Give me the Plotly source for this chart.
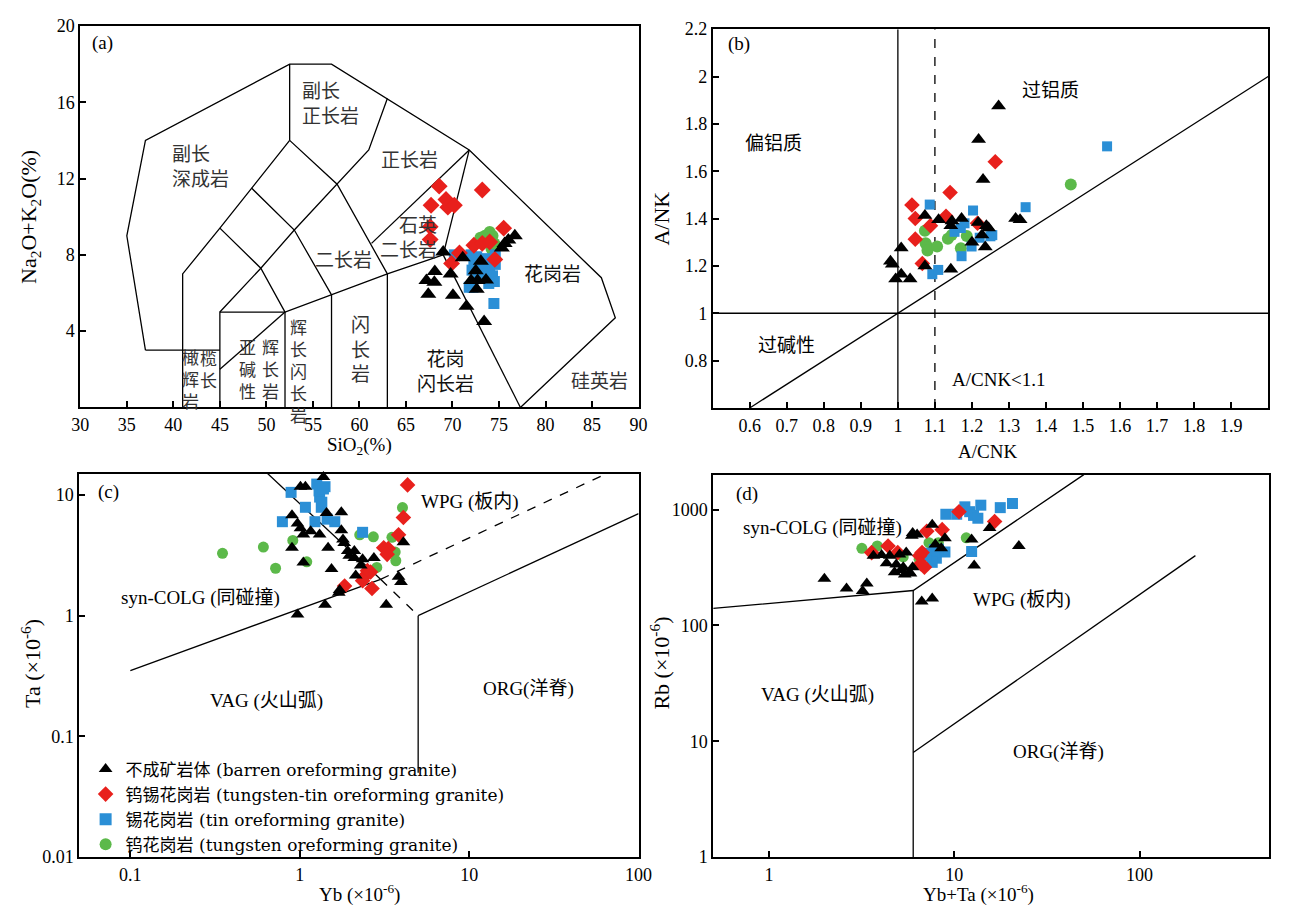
import math
import plotly.graph_objects as go

W, H = 1291, 917

# ---------------- DATA ----------------
# Panel (a) TAS: SiO2 (%) vs Na2O+K2O (%)
a_barren_x = [69.0, 71.1, 73.05, 76.0, 76.7, 75.3, 68.1, 67.2, 68.05, 67.4, 69.8, 70.05, 71.5, 73.4, 72.5, 72.0, 72.7, 73.6, 72.6, 75.6]
a_barren_y = [8.15, 7.85, 7.67, 8.78, 9.0, 8.36, 7.13, 6.65, 6.56, 5.93, 6.99, 5.88, 5.3, 4.5, 7.16, 6.65, 6.65, 6.68, 6.2, 8.6]
a_wsn_x = [68.57, 73.2, 67.7, 69.3, 69.5, 70.2, 67.6, 67.6, 75.5, 72.3, 73.2, 74.0, 70.75, 69.9, 74.55]
a_wsn_y = [11.6, 11.4, 10.6, 10.9, 10.5, 10.6, 9.47, 8.8, 9.4, 8.5, 8.6, 8.67, 8.1, 7.55, 7.76]
a_sn_x = [70.2, 72.0, 72.3, 72.1, 72.6, 73.0, 73.3, 72.8, 73.7, 74.0, 74.3, 74.6, 74.5, 72.2, 73.9, 74.45, 74.6, 71.8]
a_sn_y = [8.0, 8.0, 7.6, 7.2, 7.9, 7.4, 7.0, 6.8, 7.8, 7.3, 6.9, 7.5, 6.6, 6.3, 6.5, 5.45, 8.0, 6.3]
a_w_x = [73.0, 73.5, 74.0, 74.3, 74.5, 74.2, 73.8]
a_w_y = [8.9, 9.0, 9.2, 9.0, 8.6, 8.3, 8.8]

# Panel (b): A/CNK vs A/NK
b_barren_x = [1.272, 1.218, 1.23, 1.073, 1.11, 1.146, 1.172, 1.143, 1.217, 1.239, 1.245, 1.227, 1.2, 1.236, 1.318, 1.33, 1.009, 0.985, 0.98, 0.994, 1.009, 1.033, 1.073, 1.143]
b_barren_y = [1.875, 1.734, 1.565, 1.413, 1.395, 1.39, 1.40, 1.37, 1.383, 1.37, 1.36, 1.33, 1.30, 1.28, 1.40, 1.395, 1.276, 1.207, 1.22, 1.145, 1.165, 1.145, 1.2, 1.186]
b_wsn_x = [1.263, 1.141, 1.038, 1.047, 1.13, 1.088, 1.047, 1.066, 1.215]
b_wsn_y = [1.64, 1.51, 1.457, 1.40, 1.41, 1.37, 1.313, 1.21, 1.38]
b_sn_x = [1.086, 1.203, 1.345, 1.153, 1.17, 1.18, 1.199, 1.172, 1.221, 1.25, 1.255, 1.093, 1.109, 1.565]
b_sn_y = [1.459, 1.434, 1.448, 1.344, 1.36, 1.38, 1.282, 1.241, 1.319, 1.325, 1.33, 1.165, 1.183, 1.705]
b_w_x = [1.467, 1.073, 1.075, 1.08, 1.08, 1.106, 1.135, 1.145, 1.186, 1.17]
b_w_y = [1.544, 1.348, 1.296, 1.28, 1.265, 1.282, 1.315, 1.33, 1.326, 1.275]

# Panel (c): Yb vs Ta
c_barren_x = [1.38, 1.01, 1.08, 1.44, 1.76, 0.90, 0.97, 1.01, 1.05, 1.16, 1.31, 1.76, 1.80, 0.90, 1.47, 1.83, 1.92, 2.10, 1.96, 2.10, 2.35, 2.74, 2.29, 1.05, 1.54, 2.14, 3.83, 3.96, 1.72, 1.70, 1.41, 0.97, 3.24, 4.09]
c_barren_y = [14.1, 11.7, 11.7, 7.1, 7.2, 6.8, 5.8, 5.3, 4.7, 5.0, 4.7, 5.1, 4.27, 3.65, 3.65, 4.0, 3.43, 3.43, 3.13, 3.0, 2.93, 3.0, 2.6, 2.76, 2.43, 2.15, 2.1, 1.9, 1.63, 1.55, 1.23, 1.02, 1.23, 4.05]
c_wsn_x = [4.33, 4.09, 3.83, 3.13, 3.33, 3.28, 2.51, 2.40, 2.62, 1.84, 2.67, 2.35]
c_wsn_y = [12.1, 6.5, 4.67, 3.65, 3.6, 3.22, 2.36, 2.1, 2.3, 1.76, 1.68, 1.95]
c_sn_x = [0.889, 1.26, 1.41, 1.31, 1.34, 1.08, 0.79, 1.23, 1.61, 2.35, 1.30, 1.38, 1.35, 1.45]
c_sn_y = [10.5, 12.3, 11.7, 9.6, 7.9, 7.9, 6.0, 6.0, 6.0, 4.9, 10.8, 11.2, 8.7, 6.3]
c_w_x = [0.35, 0.61, 0.72, 0.91, 1.10, 2.26, 2.72, 3.5, 4.04, 3.66, 3.69, 2.85]
c_w_y = [3.28, 3.7, 2.47, 4.2, 2.79, 4.67, 4.5, 4.45, 7.85, 3.36, 2.85, 2.51]

# Panel (d): Yb+Ta vs Rb
d_barren_x = [1.99, 2.62, 3.2, 3.37, 6.67, 7.6, 22.3, 12.8, 15.5, 12.4, 7.6, 8.9, 7.9, 8.5, 5.96, 6.3, 5.9, 3.66, 4.05, 4.48, 5.06, 5.5, 4.31, 4.86, 5.3, 4.76, 5.17, 5.72, 5.96, 5.4, 5.8]
d_barren_y = [253, 208, 198, 230, 161, 171, 485, 328, 692, 551, 738, 564, 500, 463, 628, 610, 595, 399, 405, 399, 410, 425, 344, 335, 318, 288, 300, 288, 318, 275, 280]
d_wsn_x = [10.6, 16.5, 8.6, 7.1, 4.39, 3.58, 4.95, 6.7, 6.5, 6.9, 6.6]
d_wsn_y = [958, 789, 670, 649, 485, 425, 425, 425, 400, 318, 340]
d_sn_x = [9.0, 10.3, 11.4, 12.1, 12.7, 13.4, 13.9, 17.7, 20.6, 12.4, 7.3, 8.0, 8.9, 7.6, 8.2, 7.0, 7.8]
d_sn_y = [910, 910, 1055, 958, 890, 841, 1090, 1038, 1127, 434, 420, 380, 430, 350, 454, 400, 450]
d_w_x = [3.17, 3.84, 11.6, 7.3, 6.46, 5.3, 8.2]
d_w_y = [463, 485, 570, 517, 373, 390, 517]

series_names = [
    "不成矿岩体 (barren oreforming granite)",
    "钨锡花岗岩 (tungsten-tin oreforming granite)",
    "锡花岗岩 (tin oreforming granite)",
    "钨花岗岩 (tungsten oreforming granite)",
]

# Diagram boundaries (template lines)
tas_lines = [
    [(37, 3), (35, 9), (37, 14), (52.5, 18), (57, 18), (71.8, 13.5), (86, 6.8), (87.5, 4.7), (77.3, 0)],
    [(37, 3), (45, 3)],
    [(41, 0), (41, 7), (45, 9.4), (48.4, 11.5), (52.5, 14)],
    [(45, 0), (45, 5), (52, 5), (57, 5.9), (63, 7), (69, 8)],
    [(52, 0), (52, 5)],
    [(57, 0), (57, 5.9)],
    [(63, 0), (63, 7)],
    [(45, 5), (49.4, 7.3), (53, 9.3), (57.6, 11.7), (61, 13.5), (63, 16.2)],
    [(45, 9.4), (49.4, 7.3), (52, 5)],
    [(48.4, 11.5), (53, 9.3), (57, 5.9)],
    [(52.5, 14), (57.6, 11.7), (63, 7)],
    [(52.5, 14), (52.5, 18)],
    [(61.3, 8.6), (71.8, 13.5)],
    [(69, 8), (71.8, 13.5)],
    [(69, 8), (77.3, 0)],
    [(45, 2), (52, 5)],
]
acnk_solid = [
    [(1, 0.6), (1, 2.2)],
    [(0.5, 1), (2.0, 1)],
    [(0.6, 0.6), (2.0, 2.0)],
]
acnk_dash = [[(1.1, 0.6), (1.1, 2.2)]]
taYb_solid = [
    [(0.52, 20), (3, 2)],
    [(5, 1), (100, 7)],
    [(5, 0.05), (5, 1)],
    [(0.1, 0.35), (3, 2)],
]
taYb_dash = [
    [(3, 2), (5, 1)],
    [(3, 2), (100, 20)],
]
rb_solid = [
    [(0.5, 140), (6, 200), (50, 2000)],
    [(6, 1), (6, 200)],
    [(6, 8), (200, 400)],
]

# ---------------- FIGURE ----------------
fig = go.Figure()

def px_x(p):
    return p / W

def px_y(p):
    return 1 - p / H

dom = {
    "": ([72.6, 641], [16.3, 406.3]),
    "2": ([716.5, 1282], [19.6, 406.8]),
    "3": ([71.6, 641], [474, 866]),
    "4": ([717, 1283], [475, 866]),
}

def add_lines(segs, ax, dash="solid", width=1.3):
    xs, ys = [], []
    for s in segs:
        for (x, y) in s:
            xs.append(x)
            ys.append(y)
        xs.append(None)
        ys.append(None)
    fig.add_trace(go.Scatter(x=xs, y=ys, mode="lines", xaxis="x" + ax, yaxis="y" + ax,
                             line=dict(color="black", width=width, dash=dash),
                             showlegend=False, hoverinfo="skip"))

add_lines(tas_lines, "")
add_lines(acnk_solid, "2")
add_lines(acnk_dash, "2", dash="dash")
add_lines(taYb_solid, "3")
add_lines(taYb_dash, "3", dash="dash")
add_lines(rb_solid, "4")

colors = ["#000000", "#e8201c", "#2b8fd6", "#5cb94a"]
symbols = ["triangle-up", "diamond", "square", "circle"]

panels = [
    ("", [(a_barren_x, a_barren_y), (a_wsn_x, a_wsn_y), (a_sn_x, a_sn_y), (a_w_x, a_w_y)], [14, 13, 11, 12]),
    ("2", [(b_barren_x, b_barren_y), (b_wsn_x, b_wsn_y), (b_sn_x, b_sn_y), (b_w_x, b_w_y)], [13, 12, 10, 12]),
    ("3", [(c_barren_x, c_barren_y), (c_wsn_x, c_wsn_y), (c_sn_x, c_sn_y), (c_w_x, c_w_y)], [12, 12, 11, 11]),
    ("4", [(d_barren_x, d_barren_y), (d_wsn_x, d_wsn_y), (d_sn_x, d_sn_y), (d_w_x, d_w_y)], [12, 12, 11, 11]),
]
draw_order = [3, 2, 1, 0]
for ax, ser, sizes in panels:
    for i in draw_order:
        xs, ys = ser[i]
        fig.add_trace(go.Scatter(
            x=xs, y=ys, mode="markers", xaxis="x" + ax, yaxis="y" + ax,
            name=series_names[i], legendrank=i + 1,
            showlegend=(ax == "3"),
            marker=dict(symbol=symbols[i], color=colors[i], size=sizes[i], line=dict(width=0)),
            cliponaxis=False,
        ))

tickfont = dict(family="Liberation Serif, Times New Roman, serif", size=18, color="black")
base_axis = dict(showline=True, linecolor="black", linewidth=2, mirror=True, ticks="inside",
                 ticklen=6, tickwidth=1.5, tickcolor="black", showgrid=False, zeroline=False,
                 tickfont=tickfont)

def dx(k):
    return [px_x(dom[k][0][0]), px_x(dom[k][0][1])]

def dy(k):
    return [px_y(dom[k][1][1]), px_y(dom[k][1][0])]

x_ticks_a = list(range(30, 95, 5))
y_ticks_a = [4, 8, 12, 16, 20]
x_ticks_b = [round(0.6 + 0.1 * i, 1) for i in range(14)]
y_ticks_b = [0.8, 1.0, 1.2, 1.4, 1.6, 1.8, 2.0, 2.2]

def fmt(v):
    return str(int(v)) if float(v).is_integer() else str(v)

fig.update_layout(
    width=W, height=H, margin=dict(l=0, r=0, t=0, b=0), autosize=False,
    paper_bgcolor="white", plot_bgcolor="white",
    xaxis=dict(base_axis, domain=dx(""), anchor="y", range=[30, 90], tickvals=x_ticks_a),
    yaxis=dict(base_axis, domain=dy(""), anchor="x", range=[0, 20], tickvals=y_ticks_a),
    xaxis2=dict(base_axis, domain=dx("2"), anchor="y2", range=[0.5, 2.0], tickvals=x_ticks_b,
                ticktext=[fmt(v) for v in x_ticks_b]),
    yaxis2=dict(base_axis, domain=dy("2"), anchor="x2", range=[0.6, 2.2], tickvals=y_ticks_b,
                ticktext=[fmt(v) for v in y_ticks_b]),
    xaxis3=dict(base_axis, domain=dx("3"), anchor="y3", type="log", range=[math.log10(0.05), 2],
                tickvals=[0.1, 1, 10, 100], ticktext=["0.1", "1", "10", "100"]),
    yaxis3=dict(base_axis, domain=dy("3"), anchor="x3", type="log", range=[-2, math.log10(15)],
                tickvals=[0.01, 0.1, 1, 10], ticktext=["0.01", "0.1", "1", "10"]),
    xaxis4=dict(base_axis, domain=dx("4"), anchor="y4", type="log", range=[math.log10(0.5), math.log10(500)],
                tickvals=[1, 10, 100], ticktext=["1", "10", "100"]),
    yaxis4=dict(base_axis, domain=dy("4"), anchor="x4", type="log", range=[0, math.log10(2000)],
                tickvals=[1, 10, 100, 1000], ticktext=["1", "10", "100", "1000"]),
    legend=dict(x=px_x(78), y=px_y(758), xanchor="left", yanchor="top",
                bgcolor="rgba(0,0,0,0)", borderwidth=0,
                font=dict(family="DejaVu Serif, Noto Sans CJK SC", size=17, color="black"),
                itemsizing="constant"),
)

cjk = "Liberation Serif, Noto Sans CJK SC"
lab_col = "#333333"
ann = []

def lab(text, x, y, ax, size=19, color=lab_col, xanchor="center", align="center"):
    ann.append(dict(text=text, x=x, y=y, xref="x" + ax, yref="y" + ax, showarrow=False,
                    font=dict(family=cjk, size=size, color=color), xanchor=xanchor,
                    yanchor="middle", align=align))

# (a) labels
lab("(a)", 32.4, 19.1, "", size=19, color="black")
lab("副长<br>深成岩", 39.6, 12.6, "", xanchor="left", align="left")
lab("副长<br>正长岩", 53.65, 15.9, "", xanchor="left", align="left")
lab("正长岩", 65.35, 12.97, "")
lab("石英<br>二长岩", 68.6, 8.87, "", xanchor="right", align="right")
lab("二长岩", 58.3, 7.68, "")
lab("花岗岩", 80.8, 6.96, "", color="#111111")
lab("花岗<br>闪长岩", 69.3, 1.86, "", color="#111111")
lab("硅英岩", 85.85, 1.35, "")
lab("闪<br>长<br>岩", 60.1, 3.0, "")
lab("辉<br>长<br>闪<br>长<br>岩", 53.5, 1.83, "", size=17)
lab("亚<br>碱<br>性", 48.0, 1.95, "", size=17)
lab("辉<br>长<br>岩", 50.4, 1.95, "", size=17)
lab("橄<br>辉<br>岩", 41.8, 1.4, "", size=17)
lab("榄<br>长", 43.8, 1.95, "", size=17)

# (b) labels
lab("(b)", 0.572, 2.136, "2", color="black")
lab("过铝质", 1.412, 1.939, "2", color="black")
lab("偏铝质", 0.663, 1.719, "2", color="black")
lab("过碱性", 0.699, 0.862, "2", color="black")
lab("A/CNK<1.1", 1.274, 0.718, "2", color="black")

# (c) labels (log axes -> log10 coords)
lab("(c)", -1.128, 1.024, "3", color="black")
lab("WPG (板内)", 1.002, 0.941, "3", color="black")
lab("syn-COLG (同碰撞)", -0.584, 0.143, "3", color="black")
lab("VAG (火山弧)", -0.197, -0.703, "3", color="black")
lab("ORG(洋脊)", 1.35, -0.608, "3", color="black")

# (d) labels
lab("(d)", -0.119, 3.136, "4", color="black")
lab("syn-COLG (同碰撞)", 0.287, 2.84, "4", color="black")
lab("WPG (板内)", 1.364, 2.22, "4", color="black")
lab("VAG (火山弧)", 0.262, 1.403, "4", color="black")
lab("ORG(洋脊)", 1.564, 0.91, "4", color="black")

# axis titles
def title(text, px, py, angle=0, size=18):
    ann.append(dict(text=text, x=px_x(px), y=px_y(py), xref="paper", yref="paper", showarrow=False,
                    textangle=angle, xanchor="center", yanchor="middle",
                    font=dict(family="Liberation Serif, Times New Roman, serif", size=size, color="black")))

title("SiO<sub>2</sub>(%)", 357, 446, size=19)
title("Na<sub>2</sub>O+K<sub>2</sub>O(%)", 22, 212, angle=-90, size=22)
title("A/CNK", 996, 451, size=19)
title("A/NK", 664, 213, angle=-90, size=22)
title("Yb (×10<sup>-6</sup>)", 357, 903, size=19)
title("Ta (×10<sup>-6</sup>)", 23, 668, angle=-90, size=22)
title("Yb+Ta (×10<sup>-6</sup>)", 987, 903, size=19)
title("Rb (×10<sup>-6</sup>)", 663, 668, angle=-90, size=22)

fig.update_layout(annotations=ann)
fig.write_html("out.html")
